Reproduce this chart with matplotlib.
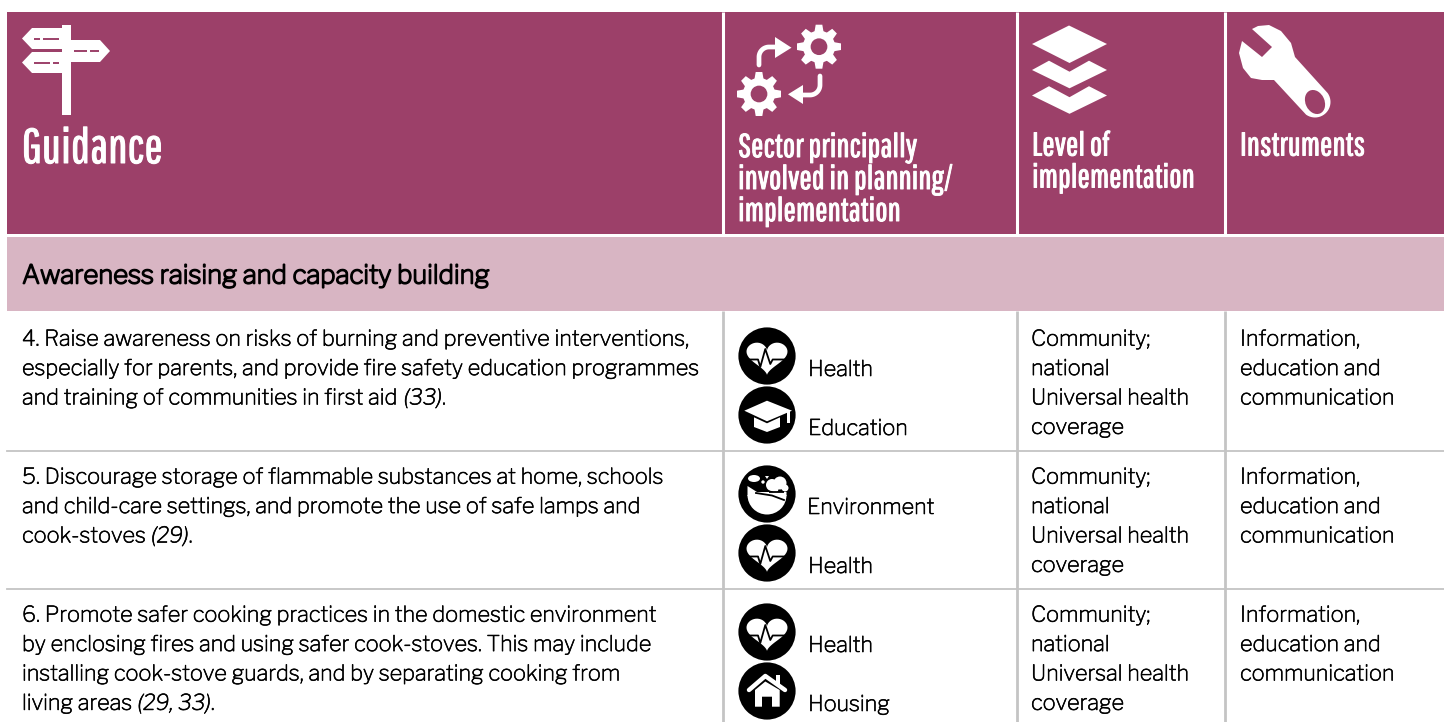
import numpy as np
import matplotlib
matplotlib.use("Agg")
import matplotlib.pyplot as plt
import matplotlib.patheffects as pe
from matplotlib.patches import Rectangle, Polygon, Circle, Wedge, Ellipse

# --- TABLE CONTENT ---
header_labels = ["Guidance", "Sector principally\ninvolved in planning/\nimplementation",
                 "Level of\nimplementation", "Instruments"]
band_label = "Awareness raising and capacity building"
guidance_rows = [
    ["4. Raise awareness on risks of burning and preventive interventions,",
     "especially for parents, and provide fire safety education programmes",
     "and training of communities in first aid "],
    ["5. Discourage storage of flammable substances at home, schools",
     "and child-care settings, and promote the use of safe lamps and",
     "cook-stoves "],
    ["6. Promote safer cooking practices in the domestic environment",
     "by enclosing fires and using safer cook-stoves. This may include",
     "installing cook-stove guards, and by separating cooking from",
     "living areas "],
]
citations = ["(33)", "(29)", "(29, 33)"]
sectors = [["Health", "Education"], ["Environment", "Health"], ["Health", "Housing"]]
levels = ["Community;", "national", "Universal health", "coverage"]
instruments = ["Information,", "education and", "communication"]

# --- COLOURS / LAYOUT ---
PLUM = "#9C4069"
PINK = "#D8B5C3"
GREY = "#C4C4C4"
BODY_FONT = ["Libre Franklin", "Roboto", "DejaVu Sans"]
HEAD_FONT = ["Pathway Gothic One", "Fira Sans Extra Condensed", "Roboto", "DejaVu Sans"]
col_x = [722.5, 1016.5, 1224.5]
row_top = [312, 450, 588]

plt.rcParams["font.family"] = BODY_FONT

fig = plt.figure(figsize=(14.44, 7.22), dpi=100)
ax = fig.add_axes([0, 0, 1, 1])
ax.set_xlim(0, 1444)
ax.set_ylim(722, 0)
ax.axis("off")
renderer = fig.canvas.get_renderer()

body_fx = [pe.withStroke(linewidth=0.45, foreground="black")]
band_fx = [pe.withStroke(linewidth=1.2, foreground="black")]
head_fx = [pe.withStroke(linewidth=0.7, foreground="white")]


def poly(pts, color="white", z=3):
    ax.add_patch(Polygon(pts, closed=True, fc=color, ec="none", zorder=z))


def line(xs, ys, color="white", lw=3, z=4, cap="round"):
    ax.plot(xs, ys, color=color, lw=lw, zorder=z, solid_capstyle=cap)


def signpost():
    ax.add_patch(Rectangle((62, 25), 9, 90, fc="white", ec="none", zorder=3))
    poly([(32, 28), (62, 28), (62, 49), (32, 49), (22, 38.5)])
    poly([(71, 40), (100, 40), (110, 51), (100, 62), (71, 62)])
    poly([(32, 52), (62, 52), (62, 73), (32, 73), (22, 62.5)])
    for x0, x1, y in [(34, 40, 38.7), (43, 59, 38.7), (74, 87, 51), (90, 99, 51),
                      (34, 50, 62.7), (53, 59, 62.7)]:
        line([x0, x1], [y, y], PLUM, 1.4, cap="butt")


def gear(cx, cy, r):
    for a in np.arange(0, 360, 45):
        t = np.radians(a)
        u = np.array([np.cos(t), np.sin(t)])
        v = np.array([-u[1], u[0]])
        c = np.array([cx, cy])
        poly([c + u * r * 0.6 - v * r * 0.22, c + u * r - v * r * 0.15,
              c + u * r + v * r * 0.15, c + u * r * 0.6 + v * r * 0.22])
    ax.add_patch(Circle((cx, cy), r * 0.73, fc="white", ec="none", zorder=3))
    ax.add_patch(Circle((cx, cy), r * 0.38, fc=PLUM, ec="none", zorder=4))


def sector_icon():
    gear(819, 46.7, 22)
    gear(759, 94, 22)
    t = np.radians(np.linspace(180, 270, 20))
    ax.plot(np.r_[759, 769 + 10 * np.cos(t), 776],
            np.r_[65, 57 + 10 * np.sin(t), 47],
            color="white", lw=3.4, zorder=3, solid_capstyle="round")
    poly([(775, 37), (791.5, 47.7), (775, 58)])
    t = np.radians(np.linspace(0, 90, 20))
    ax.plot(np.r_[820, 810 + 10 * np.cos(t), 802],
            np.r_[76, 85 + 10 * np.sin(t), 95],
            color="white", lw=3.4, zorder=3, solid_capstyle="round")
    poly([(803, 85), (788, 94.3), (803, 104)])


def layers_icon():
    poly([(1069, 25.5), (1107, 44), (1069.5, 63), (1032, 44)])
    for dy in [0, 25.5]:
        poly([(1032, 70 + dy), (1049, 60.7 + dy), (1069.5, 71.7 + dy), (1089, 60.7 + dy),
              (1107, 70 + dy), (1069.5, 88.3 + dy)])


def wrench_icon():
    t = np.radians(np.linspace(-35, 125, 24))
    ring = np.c_[1315 + 15.5 * np.cos(t), 102 + 15.5 * np.sin(t)]
    head = [(1252, 29), (1258, 26), (1269, 25), (1281, 31), (1291, 43), (1295, 57)]
    tail = [(1274, 80), (1262, 80), (1251, 78), (1243, 68), (1239, 53), (1242, 41),
            (1262, 57), (1272, 47)]
    poly(np.r_[np.array(head), ring, np.array(tail)])
    ax.add_patch(Ellipse((1315, 102), 19, 25, angle=-25, fc=PLUM, ec="none", zorder=5))


def round_icon(cx, cy):
    ax.add_patch(Circle((cx, cy), 28.6, fc="black", ec="none", zorder=3))


def heart_icon(cx, cy):
    round_icon(cx, cy)
    t = np.linspace(0, 2 * np.pi, 80)
    hx = 20.5 * np.sin(t) ** 3
    hy = -(13 * np.cos(t) - 5 * np.cos(2 * t) - 2 * np.cos(3 * t) - np.cos(4 * t)) * 1.12
    poly(np.c_[cx + hx, cy + hy], "white", 4)
    px = [-20, -9, -6.7, -1.7, 3.3, 5.7, 20]
    py = [3.5, 3.5, 11, -7, 8, 3.5, 3.5]
    ax.plot(cx + np.array(px), cy + np.array(py), color="black", lw=1.3, zorder=5)


def education_icon(cx, cy):
    round_icon(cx, cy)
    poly([(cx, cy - 14.3), (cx + 25, cy - 4.3), (cx, cy + 6.3), (cx - 22.7, cy - 4.3)], "white", 4)
    poly([(cx - 13, cy + 2.3), (cx, cy + 8.3), (cx + 13, cy + 2.3), (cx + 13, cy + 12),
          (cx, cy + 17), (cx - 13, cy + 12)], "white", 4)
    ax.add_patch(Rectangle((cx + 20.2, cy - 4.3), 2.8, 12, fc="white", ec="none", zorder=4))


def environment_icon(cx, cy):
    round_icon(cx, cy)
    ax.add_patch(Wedge((cx, cy + 1), 19.5, 0, 180, fc="white", ec="none", zorder=4))
    poly([(cx - 19.5, cy - 8), (cx - 10, cy - 2), (cx + 3, cy - 2), (cx + 19.5, cy - 2),
          (cx + 19.5, cy + 2), (cx - 19.5, cy + 2)], "white", 4)
    for dx, dy, r in [(5, -9, 6), (13, -11, 6.5), (18, -6, 3.5), (8, -5, 3.5)]:
        ax.add_patch(Circle((cx + dx, cy + dy), r, fc="white", ec="none", zorder=6))
    ax.add_patch(Ellipse((cx - 13, cy - 15.5), 12, 7, fc="white", ec="none", zorder=6))
    ax.add_patch(Circle((cx - 4, cy - 12), 1.7, fc="white", ec="none", zorder=6))
    poly([(cx - 2, cy - 18), (cx + 2, cy - 18), (cx, cy - 15)], "white", 6)
    ax.plot([cx - 11, cx + 5, cx + 17], [cy - 1, cy + 1.5, cy + 6], color="black", lw=1.3, zorder=7)
    line([cx + 2, cx + 17], [cy - 2, cy - 2], "black", 1.3, z=7, cap="butt")


def housing_icon(cx, cy):
    round_icon(cx, cy)
    line([cx - 18, cx - 1.7, cx + 18], [cy - 1, cy - 15, cy - 1], "white", 3.2)
    ax.add_patch(Rectangle((cx + 8.5, cy - 16), 4.5, 9, fc="white", ec="none", zorder=4))
    poly([(cx - 12, cy - 1), (cx - 1.7, cy - 9.5), (cx + 12.7, cy - 1), (cx + 12.7, cy + 15.7),
          (cx + 5, cy + 15.7), (cx + 5, cy + 5.7), (cx - 5, cy + 5.7), (cx - 5, cy + 15.7),
          (cx - 12, cy + 15.7)], "white", 4)


def fit_size(txt, width, family):
    # font size that makes txt come out width pixels wide
    t = ax.text(0, 0, txt, fontsize=20, family=family)
    w = t.get_window_extent(renderer).width
    t.remove()
    return 20 * width / w


# --- BACKGROUNDS ---
ax.add_patch(Rectangle((7, 12), 1437, 222, fc=PLUM, ec="none"))
ax.add_patch(Rectangle((7, 237), 1437, 74, fc=PINK, ec="none"))
for x in col_x:
    ax.plot([x, x], [12, 234], color="white", lw=2.2, zorder=2, solid_capstyle="butt")
    ax.plot([x, x], [311, 722], color=GREY, lw=2, zorder=2, solid_capstyle="butt")
for y in row_top[1:]:
    ax.plot([7, 1444], [y + 0.5, y + 0.5], color=GREY, lw=1.3, zorder=1)

# --- HEADER ---
signpost()
sector_icon()
layers_icon()
wrench_icon()

title_size = fit_size(header_labels[0], 140, HEAD_FONT)
head_size = fit_size("involved in planning/", 214, HEAD_FONT)
ax.text(22, 149.5, header_labels[0], color="white", fontsize=title_size, family=HEAD_FONT,
        va="center", ha="left", path_effects=head_fx)
for i, txt in enumerate(header_labels[1].split("\n")):
    ax.text(738, 148 + i * 32, txt, color="white", fontsize=head_size, family=HEAD_FONT,
            va="center", ha="left", path_effects=head_fx)
for i, txt in enumerate(header_labels[2].split("\n")):
    ax.text(1032, 146.5 + i * 32, txt, color="white", fontsize=head_size, family=HEAD_FONT,
            va="center", ha="left", path_effects=head_fx)
ax.text(1240, 146.5, header_labels[3], color="white", fontsize=head_size, family=HEAD_FONT,
        va="center", ha="left", path_effects=head_fx)

ax.text(22, 276, band_label, color="black", fontsize=18.6, va="center", ha="left", path_effects=band_fx)

# --- BODY ROWS ---
body_size = 15.6
line_gap = 29.4
icon_fn = {"Health": heart_icon, "Education": education_icon,
           "Environment": environment_icon, "Housing": housing_icon}
for r, top in enumerate(row_top):
    y0 = top + 27.2
    for i, txt in enumerate(guidance_rows[r]):
        t = ax.text(22, y0 + i * line_gap, txt, fontsize=body_size, color="black",
                    va="center", ha="left", path_effects=body_fx)
    # last line ends with an italic citation and an upright full stop
    x_end = t.get_window_extent(renderer).x1
    y_last = y0 + (len(guidance_rows[r]) - 1) * line_gap
    c = ax.text(x_end, y_last, citations[r], fontsize=body_size, style="italic", color="black",
                va="center", ha="left", path_effects=body_fx)
    ax.text(c.get_window_extent(renderer).x1, y_last, ".", fontsize=body_size, color="black",
            va="center", ha="left", path_effects=body_fx)
    for i, txt in enumerate(levels):
        ax.text(1031, y0 + i * line_gap, txt, fontsize=body_size, color="black",
                va="center", ha="left", path_effects=body_fx)
    for i, txt in enumerate(instruments):
        ax.text(1240, y0 + i * line_gap, txt, fontsize=body_size, color="black",
                va="center", ha="left", path_effects=body_fx)
    for i, name in enumerate(sectors[r]):
        cy = top + 44 + i * 59
        icon_fn[name](767, cy)
        lx = 807 if name == "Environment" else 808
        ax.text(lx, cy + 13.5, name, fontsize=body_size, color="black", va="center", ha="left",
                path_effects=body_fx)

fig.savefig("out.png", dpi=100)
